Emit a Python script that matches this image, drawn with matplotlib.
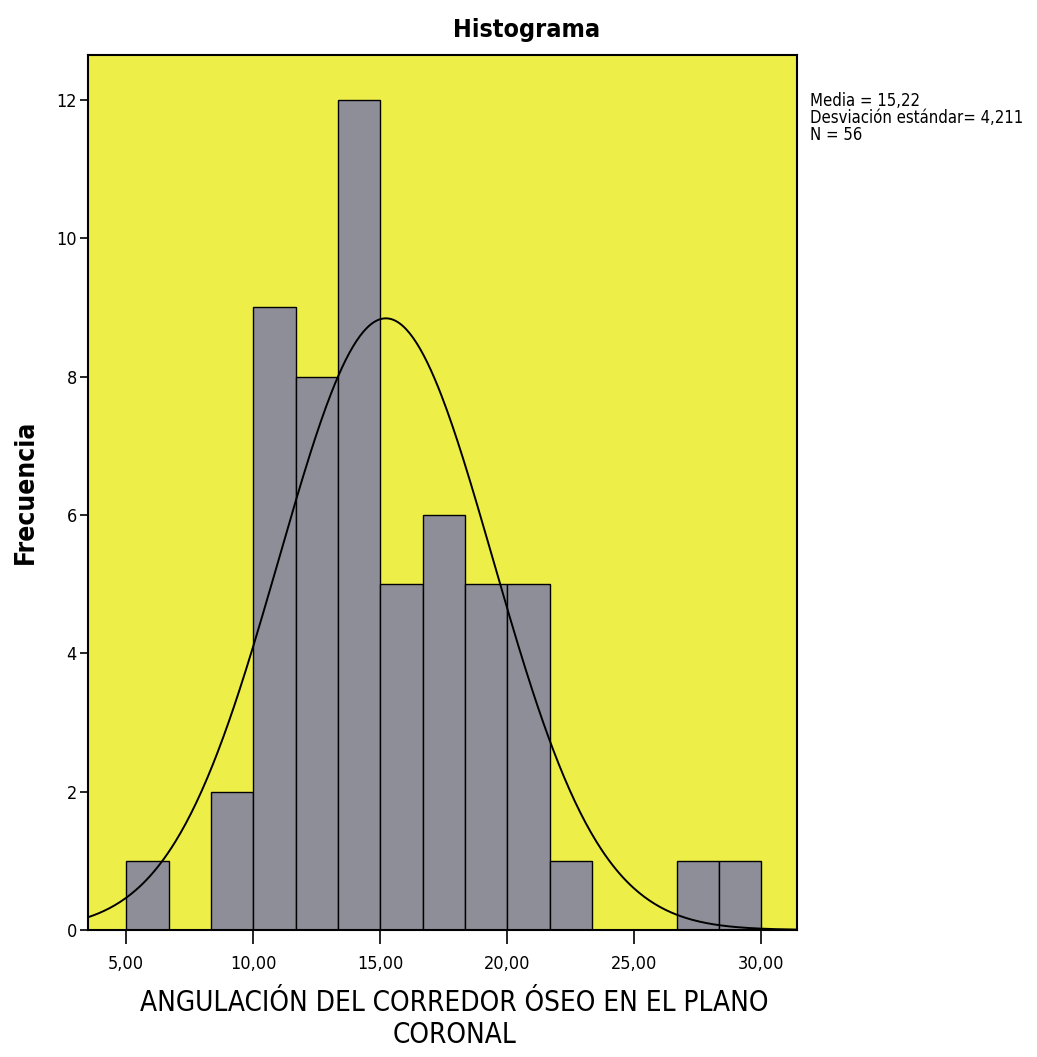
import numpy as np
import matplotlib.pyplot as plt

# histogram data
bin_edges = [5 + i * 5 / 3 for i in range(16)]
counts = [1, 0, 2, 9, 8, 12, 5, 6, 5, 5, 1, 0, 0, 1, 1]
mean = 15.22
std = 4.211
n = 56

x_ticks = [5, 10, 15, 20, 25, 30]
x_tick_labels = ["5,00", "10,00", "15,00", "20,00", "25,00", "30,00"]
y_ticks = [0, 2, 4, 6, 8, 10, 12]

BAR_COLOR = '#8e8e98'
BG_COLOR = '#eeee48'
FONT = 'DejaVu Sans'
STRETCH = 'condensed'


def main():
    fig = plt.figure(figsize=(10.37, 10.57), dpi=100)
    ax = fig.add_axes([0.0849, 0.1202, 0.6837, 0.8278])
    ax.set_facecolor(BG_COLOR)

    widths = np.diff(bin_edges)
    ax.bar(bin_edges[:-1], counts, width=widths, align='edge',
           color=BAR_COLOR, edgecolor='black', linewidth=1.0, zorder=2)

    # normal curve scaled to counts
    bw = widths[0]
    xs = np.linspace(3.5, 31.4, 400)
    ys = n * bw / (std * np.sqrt(2 * np.pi)) * np.exp(-0.5 * ((xs - mean) / std) ** 2)
    ax.plot(xs, ys, color='black', linewidth=1.4, zorder=3)

    ax.set_xlim(3.5, 31.4)
    ax.set_ylim(0, 12.65)
    ax.set_xticks(x_ticks)
    ax.set_xticklabels(x_tick_labels, fontsize=13, family=FONT, stretch=STRETCH)
    ax.set_yticks(y_ticks)
    ax.set_yticklabels([str(v) for v in y_ticks], fontsize=13, family=FONT, stretch=STRETCH)
    ax.tick_params(axis='x', length=10, width=1.2, pad=8)
    ax.tick_params(axis='y', length=6, width=1.2, pad=2)
    for s in ax.spines.values():
        s.set_linewidth(1.5)

    fig.text(0.508, 0.972, "Histograma", fontsize=18, fontweight='bold',
             ha='center', va='center', family=FONT, stretch=STRETCH)
    fig.text(0.438, 0.036, "ANGULACIÓN DEL CORREDOR ÓSEO EN EL PLANO\nCORONAL",
             fontsize=20, ha='center', va='center', family=FONT, stretch=STRETCH,
             linespacing=1.2)
    fig.text(0.025, 0.5345, "Frecuencia", fontsize=19, fontweight='bold',
             rotation=90, ha='center', va='center', family=FONT, stretch=STRETCH)
    fig.text(0.781, 0.913, "Media = 15,22\nDesviación estándar= 4,211\nN = 56",
             fontsize=12, ha='left', va='top', family=FONT, stretch=STRETCH,
             linespacing=0.92)

    plt.savefig('out.png', dpi=100)


if __name__ == '__main__':
    main()
